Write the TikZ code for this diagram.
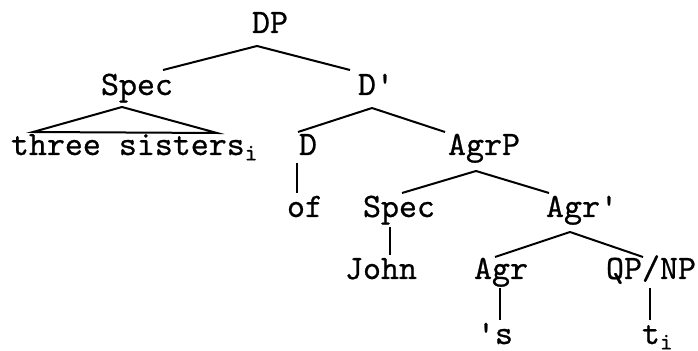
\documentclass[tikz,border=0pt]{standalone}
\usepackage{fontspec}
\newfontfamily\treefont{lmmono10-regular.otf}[FakeBold=0.7]
\usetikzlibrary{calc}
\tikzset{lbl/.style={inner sep=0pt, anchor=base, font=\treefont\fontsize{13.7}{16}\selectfont}}
\begin{document}
\begin{tikzpicture}[x=0.4pt, y=-0.4pt, line width=0.8pt]
      \useasboundingbox (0,0) rectangle (698,351);
      \draw
        (270,33) node[lbl] (DP){DP}
        (137,95) node[lbl] (specA){Spec}
        (376,95) node[lbl] (Dbar){D\textquotesingle}
        (10,155) node[lbl, anchor=base west] (sisters){three sisters\textsubscript{i}}
        (308,155) node[lbl] (D){D}
        (484,155) node[lbl] (AgrP){AgrP}
        (305,217) node[lbl] (of){of}
        (399,217) node[lbl] (specB){Spec}
        (582,217) node[lbl] (Agrbar){Agr\textquotesingle}
        (381,279) node[lbl] (John){John}
        (501,279) node[lbl] (Agr){Agr}
        (651,279) node[lbl] (QPNP){QP/NP}
        (495,344) node[lbl] (s){\textquotesingle s}
        (641,344) node[lbl, anchor=base west] (t){t\textsubscript{i}};
      \begin{scope}[-]
        \draw ($(DP.base)+(-13,13)$) -- ($(specA.base)+(26,-25)$);
        \draw ($(DP.base)+(-13,13)$) -- ($(Dbar.base)+(-26,-25)$);
        \draw ($(specA.base)+(-15,12)$) -- ($(sisters.base west)+(23,-23)$)
          -- ($(sisters.base west)+(207,-22)$) -- cycle;
        \draw ($(Dbar.base)+(-4,13)$) -- ($(D.base)+(-10,-23)$);
        \draw ($(Dbar.base)+(-4,13)$) -- ($(AgrP.base)+(-39,-23)$);
        \draw ($(D.base)+(-11,8)$) -- ($(of.base)+(-8,-24)$);
        \draw ($(AgrP.base)+(-8,16)$) -- ($(specB.base)+(3,-24)$);
        \draw ($(AgrP.base)+(-8,16)$) -- ($(Agrbar.base)+(-33,-24)$);
        \draw ($(specB.base)+(-9,10)$) -- ($(John.base)+(9,-24)$);
        \draw ($(Agrbar.base)+(-12,15)$) -- ($(Agr.base)+(-6,-22)$);
        \draw ($(Agrbar.base)+(-12,15)$) -- ($(QPNP.base)+(-8,-22)$);
        \draw ($(Agr.base)+(-1,9)$) -- ($(s.base)+(5,-24)$);
        \draw ($(QPNP.base)+(-1,9)$) -- ($(t.base west)+(9,-24)$);
      \end{scope}
    \end{tikzpicture}
\end{document}
